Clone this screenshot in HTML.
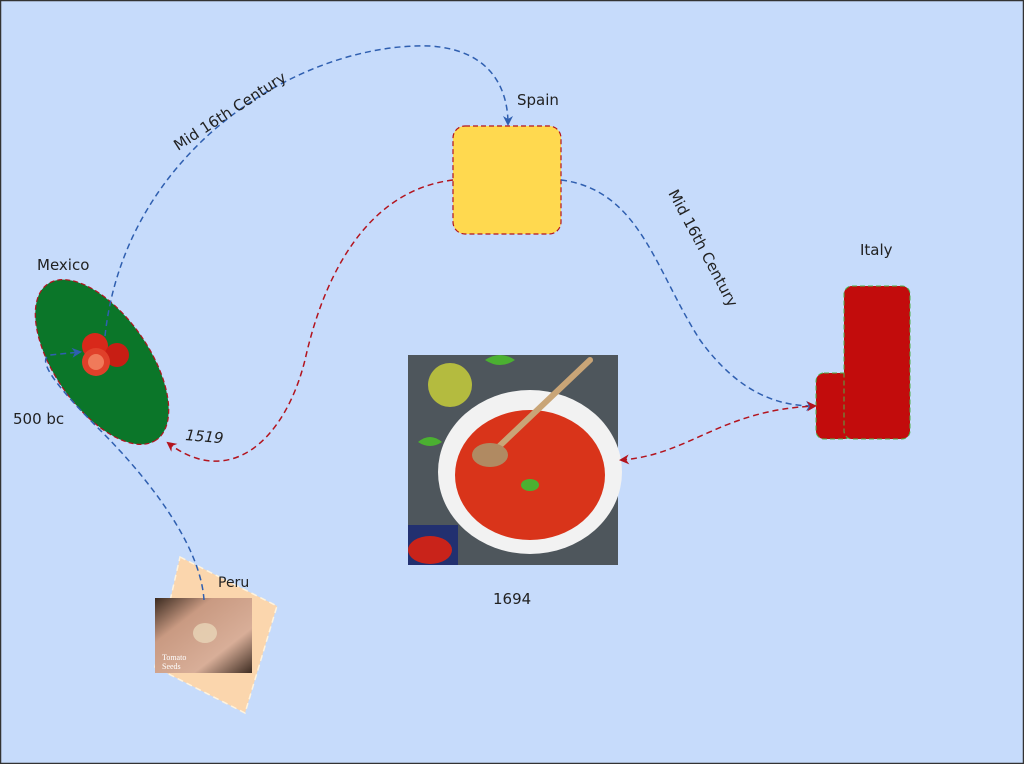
<!DOCTYPE html>
<html><head><meta charset="utf-8"><style>
html,body{margin:0;padding:0;background:#c6dbfb;}
svg{display:block;font-family:"DejaVu Sans","Liberation Sans",sans-serif;}
</style></head><body>
<svg width="1024" height="764" viewBox="0 0 1024 764" xmlns="http://www.w3.org/2000/svg">
<defs>
<marker id="ab" markerWidth="10" markerHeight="10" refX="8" refY="5" orient="auto" markerUnits="userSpaceOnUse"><path d="M0,0 L10,5 L0,10 L3,5 Z" fill="#2f5fb0"/></marker>
<marker id="ar" markerWidth="10" markerHeight="10" refX="8" refY="5" orient="auto" markerUnits="userSpaceOnUse"><path d="M0,0 L10,5 L0,10 L3,5 Z" fill="#b3141e"/></marker>
<marker id="ars" markerWidth="10" markerHeight="10" refX="2" refY="5" orient="auto" markerUnits="userSpaceOnUse"><path d="M10,0 L0,5 L10,10 L7,5 Z" fill="#b3141e"/></marker>
<linearGradient id="hand" x1="0" y1="0" x2="1" y2="1"><stop offset="0" stop-color="#3a2a20"/><stop offset="0.3" stop-color="#c99a82"/><stop offset="0.7" stop-color="#d8ae98"/><stop offset="1" stop-color="#3d2c22"/></linearGradient>
</defs>
<rect x="0.5" y="0.5" width="1023" height="763" fill="#c6dbfb" stroke="#333" stroke-width="1.5"/>

<polygon points="180,557 277,606 245,713 155,667" fill="#fbd6ad" stroke="#fff3dd" stroke-dasharray="6,4" stroke-width="1.5"/>
<rect x="155" y="598" width="97" height="75" fill="url(#hand)"/>
<ellipse cx="205" cy="633" rx="12" ry="10" fill="#e8d6b8" opacity="0.8"/>
<text x="162" y="660" font-family="Liberation Serif,serif" font-size="8" fill="#fff">Tomato</text>
<text x="162" y="669" font-family="Liberation Serif,serif" font-size="8" fill="#fff">Seeds</text>
<text x="218" y="587" font-size="14" fill="#222">Peru</text>

<ellipse cx="102" cy="362" rx="95" ry="47" transform="rotate(55 102 362)" fill="#0b7629" stroke="#b3141e" stroke-dasharray="5,3" stroke-width="1.2"/>
<circle cx="95" cy="346" r="13" fill="#d8281a"/>
<circle cx="117" cy="355" r="12" fill="#c81e14"/>
<circle cx="96" cy="362" r="14" fill="#e0402a"/>
<circle cx="96" cy="362" r="8" fill="#f07a5a"/>
<text x="37" y="270" font-size="15" fill="#222">Mexico</text>
<text x="13" y="424" font-size="15" fill="#222">500 bc</text>

<rect x="453" y="126" width="108" height="108" rx="12" fill="#ffd94f" stroke="#b3141e" stroke-dasharray="5,3" stroke-width="1.2"/>
<text x="517" y="105" font-size="15" fill="#222">Spain</text>

<rect x="816" y="373" width="36" height="66" rx="8" fill="#c20c0c" stroke="#4db04a" stroke-dasharray="5,3"/>
<rect x="844" y="286" width="66" height="153" rx="8" fill="#c20c0c" stroke="#4db04a" stroke-dasharray="5,3"/>
<text x="860" y="255" font-size="15" fill="#222">Italy</text>

<rect x="408" y="355" width="210" height="210" fill="#4e565c"/>
<ellipse cx="530" cy="472" rx="92" ry="82" fill="#f2f2f2"/>
<ellipse cx="530" cy="475" rx="75" ry="65" fill="#d9341a"/>
<ellipse cx="450" cy="385" rx="22" ry="22" fill="#c7cc3a" opacity="0.85"/>
<line x1="590" y1="360" x2="490" y2="455" stroke="#c9a577" stroke-width="6" stroke-linecap="round"/>
<ellipse cx="490" cy="455" rx="18" ry="12" fill="#b08a62"/>
<path d="M485,360 q15,-10 30,0 q-15,10 -30,0Z" fill="#4bb031"/>
<path d="M418,442 q12,-10 24,0 q-12,8 -24,0Z" fill="#4bb031"/>
<ellipse cx="530" cy="485" rx="9" ry="6" fill="#4bb031"/>
<rect x="408" y="525" width="50" height="40" fill="#223070"/>
<ellipse cx="430" cy="550" rx="22" ry="14" fill="#c9231a"/>
<text x="493" y="604" font-size="15" fill="#222">1694</text>

<path d="M105,336 C125,150 300,42 430,46 C492,50 508,90 508,124" fill="none" stroke="#2f5fb0" stroke-width="1.5" stroke-dasharray="6,4" marker-end="url(#ab)"/>
<path d="M453,180 C370,190 325,270 305,360 C285,440 230,490 168,443" fill="none" stroke="#b3141e" stroke-width="1.5" stroke-dasharray="6,4" marker-end="url(#ar)"/>
<path d="M561,180 C640,190 655,270 700,340 C740,395 780,406 814,406" fill="none" stroke="#2f5fb0" stroke-width="1.5" stroke-dasharray="6,4" marker-end="url(#ab)"/>
<path d="M621,460 C690,455 720,410 815,406" fill="none" stroke="#b3141e" stroke-width="1.5" stroke-dasharray="6,4" marker-start="url(#ars)" marker-end="url(#ar)"/>
<path d="M204,600 C200,540 140,470 100,430 C60,390 35,360 50,355 L80,352" fill="none" stroke="#2f5fb0" stroke-width="1.5" stroke-dasharray="6,4" marker-end="url(#ab)"/>

<text font-size="15" fill="#222" transform="translate(178,151) rotate(-33)">Mid 16th Century</text>
<text font-size="15" fill="#222" transform="translate(668,193) rotate(62)">Mid 16th Century</text>
<text font-size="15" font-style="italic" fill="#222" transform="translate(185,440) rotate(5)">1519</text>
</svg>
</body></html>
